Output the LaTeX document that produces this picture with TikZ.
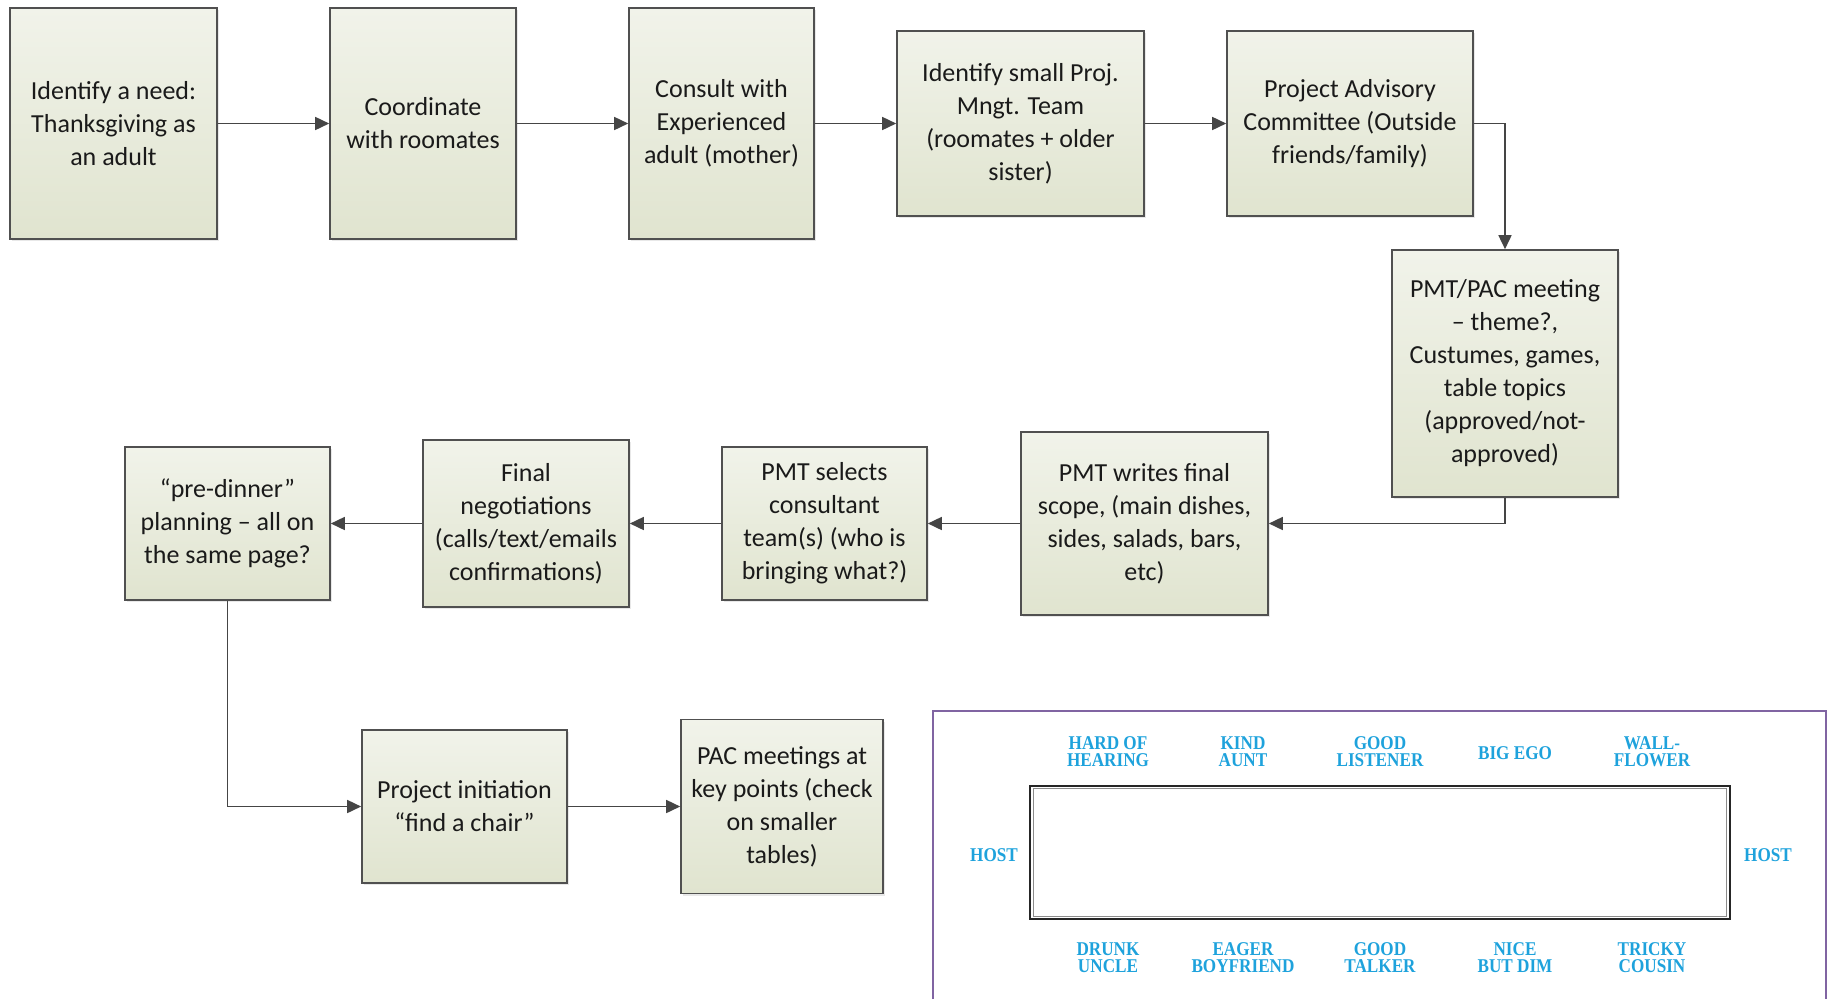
\documentclass[tikz,border=0pt]{standalone}
\usepackage{fontspec}
\setmainfont{Carlito}
\newfontfamily\lblfont[FakeStretch=0.88]{Liberation Serif}
\usetikzlibrary{arrows.meta,shadows}
\definecolor{boxtop}{HTML}{F1F3EA}
\definecolor{boxbot}{HTML}{E0E4CF}
\definecolor{boxline}{HTML}{505050}
\definecolor{connc}{HTML}{454545}
\definecolor{textc}{HTML}{1A1A1A}
\definecolor{guestc}{HTML}{1EA2DC}
\definecolor{framec}{HTML}{8064A2}
\begin{document}
\begin{tikzpicture}[x=1pt,y=-1pt,
  stepbox/.style={draw=boxline, line width=1.6pt, top color=boxtop, bottom color=boxbot,
    align=center, font=\fontsize{26}{33}\selectfont, text=textc, inner sep=0pt,
    drop shadow={shadow xshift=2pt, shadow yshift=-2pt, opacity=0.18, fill=black!50}},
  conn/.style={draw=connc, line width=1.6pt, -{Triangle[length=14pt,width=13pt]}},
  guest/.style={font=\lblfont\bfseries\fontsize{19.5}{17}\selectfont, text=guestc, align=center, inner sep=0pt}]
\useasboundingbox (0,0) rectangle (1829,999);

% top row
\node[stepbox, minimum width=207pt, minimum height=231pt] (b1) at (113.5,123.5) {Identify a need:\\Thanksgiving as\\an adult};
\node[stepbox, minimum width=186pt, minimum height=231pt] (b2) at (423,123.5) {Coordinate\\with roomates};
\node[stepbox, minimum width=185pt, minimum height=231pt] (b3) at (721.5,123.5) {Consult with\\Experienced\\adult (mother)};
\node[stepbox, minimum width=247pt, minimum height=185pt] (b4) at (1020.5,123.5) {Identify small Proj.\\Mngt. Team\\(roomates + older\\sister)};
\node[stepbox, minimum width=246pt, minimum height=185pt] (b5) at (1350,123.5) {Project Advisory\\Committee (Outside\\friends/family)};
\node[stepbox, minimum width=226pt, minimum height=247pt] (b6) at (1505,373.5) {PMT/PAC meeting\\– theme?,\\Custumes, games,\\table topics\\(approved/not-\\approved)};

% middle row
\node[stepbox, minimum width=247pt, minimum height=183pt] (b7) at (1144.5,523.5) {PMT writes final\\scope, (main dishes,\\sides, salads, bars,\\etc)};
\node[stepbox, minimum width=205pt, minimum height=153pt] (b8) at (824.5,523.5) {PMT selects\\consultant\\team(s) (who is\\bringing what?)};
\node[stepbox, minimum width=206pt, minimum height=167pt] (b9) at (526,523.5) {Final\\negotiations\\(calls/text/emails\\confirmations)};
\node[stepbox, minimum width=205pt, minimum height=153pt] (b10) at (227.5,523.5) {“pre-dinner”\\planning – all on\\the same page?};

% bottom row
\node[stepbox, minimum width=205pt, minimum height=153pt] (b11) at (464.5,806.5) {Project initiation\\“find a chair”};
\node[stepbox, minimum width=202pt, minimum height=174pt] (b12) at (782,806.5) {PAC meetings at\\key points (check\\on smaller\\tables)};

% connectors
\draw[conn] (b1.east) -- (b2.west);
\draw[conn] (b2.east) -- (b3.west);
\draw[conn] (b3.east) -- (b4.west);
\draw[conn] (b4.east) -- (b5.west);
\draw[conn] (b5.east) -| (b6.north);
\draw[conn] (b6.south) |- (b7.east);
\draw[conn] (b7.west) -- (b8.east);
\draw[conn] (b8.west) -- (b9.east);
\draw[conn] (b9.west) -- (b10.east);
\draw[conn] (b10.south) |- (b11.west);
\draw[conn] (b11.east) -- (b12.west);

% seating plan
\draw[framec, line width=2.8pt] (933,999) -- (933,711) -- (1826,711) -- (1826,999);
\node[draw=black!85, line width=2.6pt, minimum width=700pt, minimum height=133pt, inner sep=0pt] (table) at (1380,852.5) {};
\draw[black!45, line width=1.2pt] ([shift={(4.5pt,-4pt)}]table.north west) rectangle ([shift={(-4.5pt,4pt)}]table.south east);

\node[guest] (g1) at (1108,752) {HARD OF\\HEARING};
\node[guest] (g2) at (1243,752) {KIND\\AUNT};
\node[guest] (g3) at (1380,752) {GOOD\\LISTENER};
\node[guest] (g4) at (1515,753) {BIG EGO};
\node[guest] (g5) at (1652,752) {WALL-\\FLOWER};
\node[guest] (h1) at (994,855) {HOST};
\node[guest] (h2) at (1768,855) {HOST};
\node[guest] (g6) at (1108,958) {DRUNK\\UNCLE};
\node[guest] (g7) at (1243,958) {EAGER\\BOYFRIEND};
\node[guest] (g8) at (1380,958) {GOOD\\TALKER};
\node[guest] (g9) at (1515,958) {NICE\\BUT DIM};
\node[guest] (g10) at (1652,958) {TRICKY\\COUSIN};
\end{tikzpicture}
\end{document}
